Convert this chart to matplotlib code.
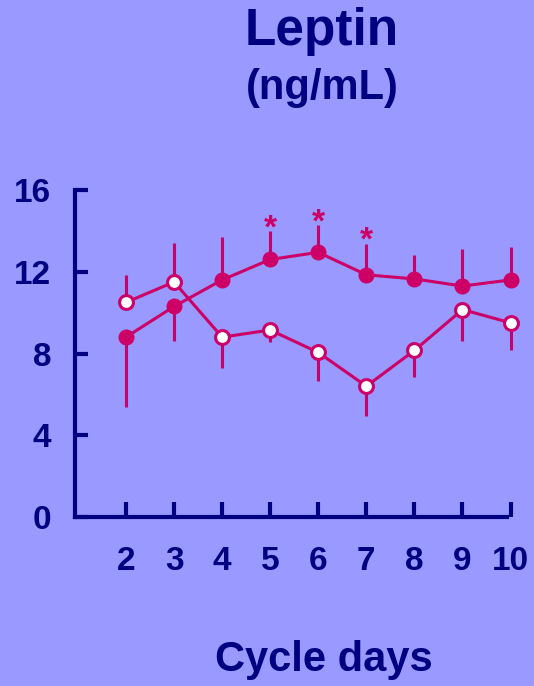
import matplotlib
matplotlib.use("Agg")
import matplotlib.pyplot as plt
import numpy as np

days = [2, 3, 4, 5, 6, 7, 8, 9, 10]
filled_mean = [8.8, 10.3, 11.6, 12.6, 12.95, 11.85, 11.65, 11.3, 11.6]
filled_err_low = [3.4, 1.7, 0, 0, 0, 0, 0, 0, 0]
filled_err_up = [0, 0, 2.1, 1.4, 1.35, 1.5, 1.15, 1.8, 1.6]
open_mean = [10.5, 11.5, 8.8, 9.15, 8.05, 6.4, 8.15, 10.15, 9.5]
open_err_low = [0, 0, 1.5, 0.6, 1.4, 1.45, 1.3, 1.55, 1.35]
open_err_up = [1.35, 1.9, 0, 0, 0, 0, 0, 0, 0]
star_days = [5, 6, 7]
star_y = [14.1, 14.4, 13.5]
yticks = [0, 4, 8, 12, 16]

BG = "#9999FF"
NAVY = "#000080"
MAG = "#CC0066"
FONT = "Liberation Sans"

plt.rcParams['font.family'] = [FONT, 'DejaVu Sans']

fig = plt.figure(figsize=(5.34, 6.86), dpi=100)
fig.patch.set_facecolor(BG)
ax = fig.add_axes([75/534, 1-517/686, (525-75)/534, (517-190)/686])
ax.set_facecolor(BG)

ax.set_xlim(0.94, 10.3)
ax.set_ylim(0, 16)

# error bars
ax.errorbar(days, filled_mean, yerr=[filled_err_low, filled_err_up], fmt='none',
            ecolor=MAG, elinewidth=2.2, capsize=0, zorder=2)
ax.errorbar(days, open_mean, yerr=[open_err_low, open_err_up], fmt='none',
            ecolor=MAG, elinewidth=2.2, capsize=0, zorder=2)

ax.plot(days, filled_mean, color=MAG, lw=2.2, marker='o', ms=10.5,
        mfc=MAG, mec=MAG, zorder=3, clip_on=False)
ax.plot(days, open_mean, color=MAG, lw=2.2, marker='o', ms=10,
        mfc='white', mec=MAG, mew=2.2, zorder=4, clip_on=False)

for d, y in zip(star_days, star_y):
    ax.text(d, y, "*", color=MAG, fontsize=24, fontweight='bold',
            ha='center', va='center', zorder=5)

for s in ['top', 'right']:
    ax.spines[s].set_visible(False)
for s in ['left', 'bottom']:
    ax.spines[s].set_color(NAVY)
    ax.spines[s].set_linewidth(3)
ax.spines['bottom'].set_bounds(0.94, 9.92)

ax.set_yticks(yticks)
ax.set_yticklabels([str(v) for v in yticks])
ax.set_xticks(days)
ax.set_xticklabels([str(d) for d in days])
ax.tick_params(axis='y', direction='in', length=9, width=3, color=NAVY,
               labelcolor=NAVY, labelsize=24, pad=17)
ax.tick_params(axis='x', direction='in', length=11, width=3, color=NAVY,
               labelcolor=NAVY, labelsize=24, pad=21)
for lab in ax.get_xticklabels() + ax.get_yticklabels():
    lab.set_fontweight('bold')

fig.text(322/534, 1-31/686, "Leptin", ha='center', va='center', color=NAVY,
         fontsize=37, fontweight='bold')
fig.text(322/534, 1-88/686, "(ng/mL)", ha='center', va='center', color=NAVY,
         fontsize=30, fontweight='bold')
fig.text(324/534, 1-660/686, "Cycle days", ha='center', va='center', color=NAVY,
         fontsize=30, fontweight='bold')

fig.savefig("out.png", dpi=100, facecolor=BG)
